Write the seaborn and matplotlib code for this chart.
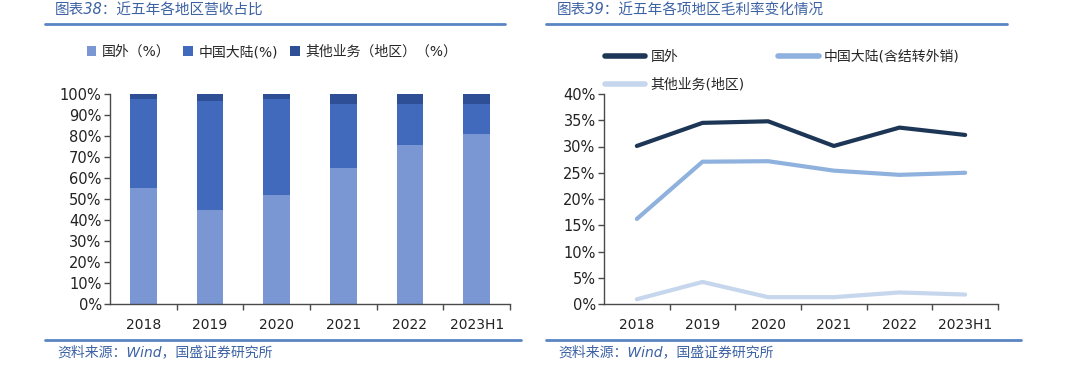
import matplotlib
matplotlib.use('Agg')
import matplotlib.pyplot as plt
import seaborn as sns
import numpy as np
from matplotlib.ticker import PercentFormatter, FixedLocator, MultipleLocator
from matplotlib.lines import Line2D
from matplotlib.patches import Patch

# ---------------- data ----------------
years = ['2018', '2019', '2020', '2021', '2022', '2023H1']

share_overseas = [55.4, 44.6, 51.9, 64.6, 75.8, 81.0]
share_mainland = [42.1, 52.2, 45.9, 30.6, 19.4, 14.2]
share_other = [2.5, 3.2, 2.2, 4.8, 4.8, 4.8]

gm_overseas = [30.1, 34.5, 34.8, 30.1, 33.6, 32.2]
gm_mainland = [16.2, 27.1, 27.2, 25.4, 24.6, 25.0]
gm_other = [0.9, 4.2, 1.3, 1.3, 2.2, 1.8]

bar_labels = ['国外（%）', '中国大陆(%)', '其他业务（地区）（%）']
line_labels = ['国外', '中国大陆(含结转外销)', '其他业务(地区)']
title_left = '图表38：近五年各地区营收占比'
title_right = '图表39：近五年各项地区毛利率变化情况'
source_text = '资料来源：Wind，国盛证券研究所'

# ---------------- style ----------------
sns.set_style('white')
plt.rcParams['font.family'] = ['DejaVu Sans', 'Noto Sans CJK SC']
plt.rcParams['axes.unicode_minus'] = False

c_bar_over = '#7B97D3'
c_bar_main = '#4169BC'
c_bar_other = '#2E4F95'
c_line_over = '#1D3656'
c_line_main = '#8FB1DD'
c_line_other = '#C6D6EC'
c_head = '#3C62A4'
c_rule = '#5A85C2'
c_axis = '#4a4a4a'

W, H = 1080, 378
fig = plt.figure(figsize=(W / 100, H / 100), dpi=100)
fig.patch.set_facecolor('white')


def fx(px):
    return px / W


def fy(py):
    return 1 - py / H


ax1 = fig.add_axes([fx(110), fy(304), fx(510) - fx(110), fy(94) - fy(304)])
ax2 = fig.add_axes([fx(604), fy(304), fx(998) - fx(604), fy(94) - fy(304)])

# ---------------- stacked bars ----------------
so = np.array(share_overseas)
sm = np.array(share_mainland)
st = np.array(share_other)
sns.barplot(x=years, y=so + sm + st, color=c_bar_other, width=0.4,
            saturation=1, linewidth=0, ax=ax1)
sns.barplot(x=years, y=so + sm, color=c_bar_main, width=0.4,
            saturation=1, linewidth=0, ax=ax1)
sns.barplot(x=years, y=so, color=c_bar_over, width=0.4,
            saturation=1, linewidth=0, ax=ax1)
ax1.set_ylim(0, 100)
ax1.yaxis.set_major_locator(MultipleLocator(10))
ax1.yaxis.set_major_formatter(PercentFormatter(decimals=0))

# ---------------- lines ----------------
for vals, col, lab in [(gm_overseas, c_line_over, line_labels[0]),
                       (gm_mainland, c_line_main, line_labels[1]),
                       (gm_other, c_line_other, line_labels[2])]:
    sns.lineplot(x=years, y=vals, color=col, linewidth=3.0, sort=False,
                 ax=ax2, legend=False)
ax2.set_ylim(0, 40)
ax2.yaxis.set_major_locator(MultipleLocator(5))
ax2.yaxis.set_major_formatter(PercentFormatter(decimals=0))

for ax in (ax1, ax2):
    ax.set_xlim(-0.5, 5.5)
    ax.set_xlabel('')
    ax.set_ylabel('')
    for s in ('top', 'right'):
        ax.spines[s].set_visible(False)
    for s in ('left', 'bottom'):
        ax.spines[s].set_color(c_axis)
        ax.spines[s].set_linewidth(1.0)
    ax.xaxis.set_minor_locator(FixedLocator(np.arange(0.5, 6, 1)))
    ax.tick_params(axis='x', which='major', length=0, pad=10, labelsize=10,
                   colors='#222222')
    ax.tick_params(axis='x', which='minor', length=4, width=1, direction='out',
                   color=c_axis, bottom=True)
    ax.tick_params(axis='y', which='major', length=4, width=1, direction='out',
                   color=c_axis, left=True, labelsize=10.5, labelcolor='#222222', pad=2)
    ax.grid(False)

# ---------------- legends ----------------
bar_handles = [Patch(facecolor=c, edgecolor='none')
               for c in (c_bar_over, c_bar_main, c_bar_other)]
fig.legend(bar_handles, bar_labels, loc='center', bbox_to_anchor=(fx(272), fy(52)),
           ncol=3, frameon=False, fontsize=10, handlelength=0.7, handleheight=0.7,
           handletextpad=0.4, columnspacing=0.9, borderpad=0)

line_handles = [Line2D([0], [0], color=c_line_over, lw=4),
                Line2D([0], [0], color=c_line_other, lw=4),
                Line2D([0], [0], color=c_line_main, lw=4)]
line_order = [line_labels[0], line_labels[2], line_labels[1]]
fig.legend(line_handles, line_order, loc='upper left', bbox_to_anchor=(fx(598), fy(43)),
           ncol=2, frameon=False, fontsize=10, handlelength=2.9,
           handletextpad=0.4, columnspacing=2.4, labelspacing=1.0, borderpad=0)

# ---------------- headers / rules / sources ----------------
fig.text(fx(55), fy(10), title_left, fontsize=10.5, style='italic', color=c_head,
         va='center', ha='left')
fig.text(fx(557), fy(10), title_right, fontsize=10.5, style='italic', color=c_head,
         va='center', ha='left')
fig.add_artist(Line2D([fx(45), fx(505)], [fy(24), fy(24)], color=c_rule, lw=2))
fig.add_artist(Line2D([fx(546), fx(1007)], [fy(24), fy(24)], color=c_rule, lw=2))
fig.add_artist(Line2D([fx(45), fx(521)], [fy(340), fy(340)], color=c_rule, lw=2))
fig.add_artist(Line2D([fx(546), fx(1021)], [fy(340), fy(340)], color=c_rule, lw=2))
fig.text(fx(57), fy(352), source_text, fontsize=10, style='italic', color=c_head,
         va='center', ha='left')
fig.text(fx(558), fy(352), source_text, fontsize=10, style='italic', color=c_head,
         va='center', ha='left')

fig.savefig('out.png', dpi=100, facecolor='white')
